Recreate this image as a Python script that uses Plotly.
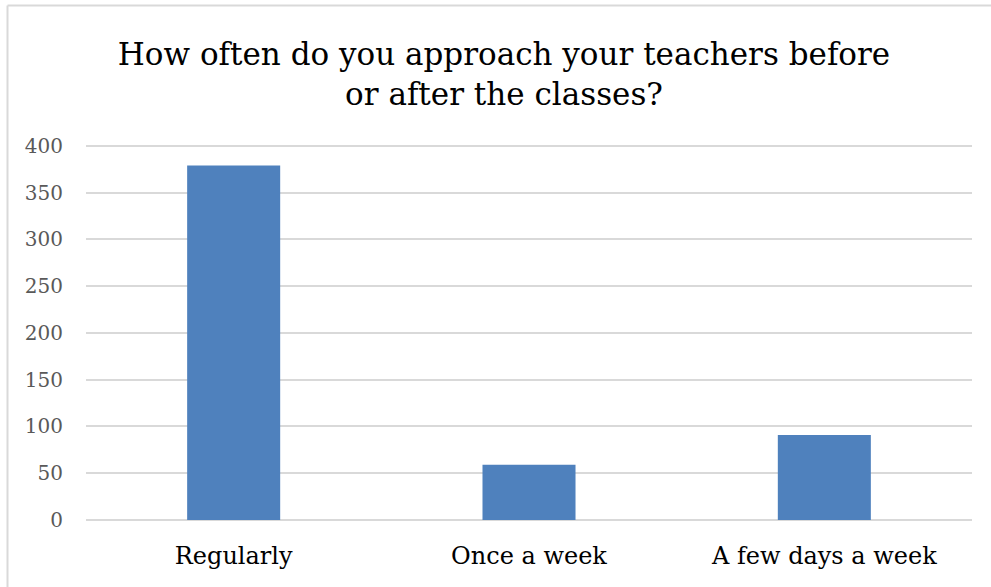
import plotly.graph_objects as go

categories = ["Regularly", "Once a week", "A few days a week"]
values = [379, 59, 91]
y_ticks = [0, 50, 100, 150, 200, 250, 300, 350, 400]

W, H = 991, 587
L, R, T, B = 86, 19, 144, 67
pw, ph = W - L - R, H - T - B

fig = go.Figure(go.Bar(x=categories, y=values, marker=dict(color="#4f81bd", line=dict(width=0))))

fig.update_layout(
    width=W, height=H,
    margin=dict(l=L, r=R, t=T, b=B),
    paper_bgcolor="white", plot_bgcolor="white",
    bargap=0.685,
    showlegend=False,
    font=dict(family="DejaVu Serif", color="#595959"),
    title=dict(
        text="How often do you approach your teachers before<br>or after the classes?",
        x=(504 - L) / pw, xref="paper", xanchor="center", y=1 - 65 / H, yanchor="middle",
        font=dict(family="DejaVu Serif", size=31, color="#000000"),
    ),
    xaxis=dict(showgrid=False, showline=False, ticks="",
               tickfont=dict(family="DejaVu Serif", size=24, color="#000000"), ticklabelstandoff=19),
    yaxis=dict(range=[0, 402], tickvals=y_ticks, showgrid=True, gridcolor="#d9d9d9",
               gridwidth=1.5, zeroline=True, zerolinecolor="#d9d9d9", zerolinewidth=1.5,
               showline=False, ticks="", tickfont=dict(family="DejaVu Serif", size=20, color="#595959"),
               ticklabelstandoff=22),
    shapes=[
        dict(type="line", xref="paper", yref="paper",
             x0=(7.5 - L) / pw, x1=(W - L) / pw, y0=(H - B - 5.5) / ph, y1=(H - B - 5.5) / ph,
             line=dict(color="#d9d9d9", width=2)),
        dict(type="line", xref="paper", yref="paper",
             x0=(7.5 - L) / pw, x1=(7.5 - L) / pw, y0=(H - B - 5.5) / ph, y1=-B / ph,
             line=dict(color="#d9d9d9", width=2)),
    ],
)

fig.write_html("out.html", config={"displayModeBar": False},
               post_script="document.body.style.margin='0';")
